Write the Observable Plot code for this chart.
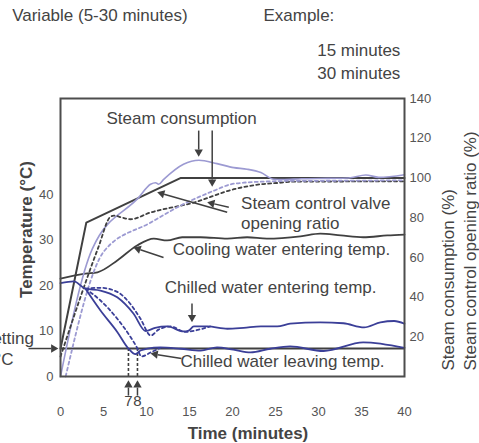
<!DOCTYPE html>
<html><head><meta charset="utf-8">
<script src="https://cdn.jsdelivr.net/npm/d3@7"></script>
<script src="https://cdn.jsdelivr.net/npm/@observablehq/plot@0.6"></script>
<style>
html,body{margin:0;padding:0;background:#fff;overflow:hidden;}
svg{display:block;}
</style></head><body><div id="chart"></div>
<script>
// ---------- data ----------
const timeTicks = [0, 5, 10, 15, 20, 25, 30, 35, 40];
const tempTicks = [0, 10, 20, 30, 40];
const pctTicks = [20, 40, 60, 80, 100, 120, 140];

// Steam consumption (%)
const steam15Time = [0, 3, 14, 40];
const steam15Pct  = [14, 77.5, 100, 100];
const steam30Time = [0, 3.7, 9.1, 10.47, 11.05, 11.4, 12, 14.3, 16.1, 18.2, 20.15, 21.7, 23.3, 24.8, 25.8, 28, 31, 33.5, 35.5, 37, 40];
const steam30Pct  = [0, 64.3, 90.2, 96.8, 97.6, 96.8, 99.3, 106.9, 108.9, 107.2, 105.2, 104.4, 102.7, 99.3, 99.2, 99.6, 99.8, 100, 101.5, 100.3, 101.6];

// Steam control valve opening ratio (%)
const valve15Time = [0, 4.4, 5.8, 6.2, 7.2, 8.1, 10.47, 15.5, 20.15, 23.26, 25.6, 26.7, 32, 40];
const valve15Pct  = [10, 65, 80.4, 81, 80, 79.2, 82.6, 87.6, 94.3, 96.8, 97.6, 98.1, 98.2, 98.3];
const valve30Time = [0.6, 5.1, 10.47, 14.3, 17.8, 19.8, 21.3, 24, 26.7, 33, 40];
const valve30Pct  = [0, 63.3, 77.5, 86.8, 93.5, 96.8, 97.6, 98.2, 98.5, 98.6, 98.8];

// Cooling water entering temp (°C)
const coolTime = [0, 2.9, 4.3, 6.6, 8.9, 10.85, 12.4, 14.15, 16.3, 19.4, 21.7, 24, 27.9, 30.2, 32.6, 35.2, 38, 40];
const coolTemp = [21.5, 22.6, 22.9, 25.5, 28.8, 30.3, 29.9, 30.6, 30.6, 30.3, 30.6, 30.3, 30.8, 31.4, 31, 30.6, 31, 31.2];

// Chilled water entering temp (°C)
const chEnt15Time = [0, 1.55, 2.9, 4.65, 6.6, 8.5, 9.9, 11, 12.4, 14.3, 14.9, 15.5, 17.1, 19.4, 21.3, 23.3, 25.2, 26.7, 30.2, 32.9, 35.3, 37.2, 38.8, 40];
const chEnt15Temp = [20.5, 20.9, 19.3, 18.9, 17.4, 13.8, 10.0, 10.7, 11, 9.9, 10.1, 11, 11, 10.5, 10.7, 11, 11, 11.6, 11.9, 11.7, 10.8, 11.9, 12.2, 11.6];
const chEnt30Time = [2.9, 4.65, 6.6, 8.1, 9.3, 10.5, 11.4, 12.8, 14.5, 16.3, 17.4];
const chEnt30Temp = [19.3, 19.5, 18.6, 16, 12.7, 9.0, 10.3, 11, 9.8, 10.4, 11];

// Chilled water leaving temp (°C)
const chLv15Time = [2.9, 4.65, 6.6, 7.9, 8.7, 9.3, 10.1, 11.6, 14, 16.3, 18.2, 20.1, 22.1, 24.4, 26.7, 30.6, 35.2, 40];
const chLv15Temp = [19.3, 14.5, 9.8, 6.15, 4.9, 5.7, 6.15, 6.4, 6.1, 5.7, 6.4, 5.9, 5.3, 6.1, 6.6, 5.6, 7.5, 6.3];
const chLv30Time = [2.9, 4.65, 6.6, 8.1, 8.95, 9.4, 10.5, 11.6];
const chLv30Temp = [19.3, 16.7, 12.7, 8.8, 6.15, 4.4, 5.3, 6.3];

const settingTemp = 6.15;
const reachTimes = [7.9, 8.95];
const reachLabels = ["7", "8"];

const titleText = "Variable (5-30 minutes)";
const exampleText = "Example:";
const legendLabels = ["15 minutes", "30 minutes"];

// ---------- helpers ----------
const TEMP_MAX = 61.1, PCT_MAX = 140;
const K = TEMP_MAX / PCT_MAX;           // °C per % on the shared vertical scale
const rows = (ts, vs, f = 1) => ts.map((t, i) => ({t, v: vs[i] * f}));

const DARK = "#404040", LILAC = "#9c9ad2", BLUE = "#3b3f98", TXT = "#444";
const FONT = "'Liberation Sans', Arial, Helvetica, sans-serif";
const W = 479, H = 443, ML = 60, MR = 75, MT = 98, MB = 67;

// annotation layout (time, °C)
const notes = [
  {t: 5.35, v: 56.7, text: "Steam consumption"},
  {t: 21.0, v: 38.1, text: "Steam control valve"},
  {t: 21.0, v: 33.55, text: "opening ratio"},
  {t: 13.06, v: 27.84, text: "Cooling water entering temp."},
  {t: 12.13, v: 19.62, text: "Chilled water entering temp."},
  {t: 13.95, v: 3.36, text: "Chilled water leaving temp."}
];
const pointers = [
  {x1: 16.07, y1: 54.05, x2: 16.07, y2: 48.3},
  {x1: 17.64, y1: 54.05, x2: 17.64, y2: 41.7},
  {x1: 19.38, y1: 36.1, x2: 11.24, y2: 40.5},
  {x1: 19.57, y1: 37.2, x2: 17.06, y2: 38.3},
  {x1: 11.98, y1: 26.15, x2: 8.49, y2: 28.35},
  {x1: 15.29, y1: 16.04, x2: 15.29, y2: 11.95},
  {x1: 14.07, y1: 3.96, x2: 10.47, y2: 5.05},
  {x1: -3.72, y1: settingTemp, x2: -0.25, y2: settingTemp},
  ...reachTimes.map(t => ({x1: t, y1: -4.2, x2: t, y2: -0.85}))
];

// filled arrowheads: triangle symbols placed at each pointer tip
const xs = Plot.scale({x: {domain: [0, 40], range: [ML, W - MR]}});
const ys = Plot.scale({y: {domain: [0, TEMP_MAX], range: [H - MB, MT]}});
const HEAD_R = 3.1;
const triHalf = Math.sqrt(Math.PI * HEAD_R * HEAD_R / (3 * Math.sqrt(3))); // d3 symbolTriangle centroid->base
const heads = pointers.map(p => {
  const ax = xs.apply(p.x1), ay = ys.apply(p.y1), bx = xs.apply(p.x2), by = ys.apply(p.y2);
  const dx = bx - ax, dy = by - ay, len = Math.hypot(dx, dy);
  const ux = dx / len, uy = dy / len;
  const cx = bx - ux * 2 * triHalf, cy = by - uy * 2 * triHalf;
  return {x: xs.invert(cx), y: ys.invert(cy), rot: Math.atan2(dx, -dy) * 180 / Math.PI,
          lx: xs.invert(bx - ux * 3 * triHalf), ly: ys.invert(by - uy * 3 * triHalf), ...p};
});

const lineStyle = (stroke, w, dash) => ({x: "t", y: "v", stroke, strokeWidth: w, strokeDasharray: dash, curve: "monotone-x"});

const chart = Plot.plot({
  width: W, height: H,
  marginLeft: ML, marginRight: MR, marginTop: MT, marginBottom: MB,
  style: {fontFamily: FONT, fontSize: "13px", color: "#555", background: "#fff", overflow: "visible"},
  x: {domain: [0, 40]},
  y: {domain: [0, TEMP_MAX]},
  marks: [
    Plot.ruleY([settingTemp], {stroke: DARK, strokeWidth: 2}),
    Plot.ruleX(reachTimes, {y1: 0, y2: settingTemp, stroke: DARK, strokeWidth: 1.6, strokeDasharray: "3,2"}),
    Plot.line(rows(coolTime, coolTemp), lineStyle(DARK, 1.8)),
    Plot.line(rows(steam15Time, steam15Pct, K), {...lineStyle(DARK, 2), curve: "linear"}),
    Plot.line(rows(steam30Time, steam30Pct, K), lineStyle(LILAC, 1.6)),
    Plot.line(rows(valve15Time, valve15Pct, K), lineStyle(DARK, 1.8, "3,3")),
    Plot.line(rows(valve30Time, valve30Pct, K), lineStyle(LILAC, 1.8, "3,3")),
    Plot.line(rows(chEnt15Time, chEnt15Temp), lineStyle(BLUE, 1.8)),
    Plot.line(rows(chEnt30Time, chEnt30Temp), lineStyle(BLUE, 1.8, "3,3")),
    Plot.line(rows(chLv15Time, chLv15Temp), lineStyle(BLUE, 1.8)),
    Plot.line(rows(chLv30Time, chLv30Temp), lineStyle(BLUE, 1.8, "3,3")),
    Plot.frame({stroke: "#4d4d4d", strokeWidth: 2}),
    Plot.link(heads, {x1: "x1", y1: "y1", x2: "lx", y2: "ly", stroke: DARK, strokeWidth: 1.5}),
    Plot.dot(heads, {x: "x", y: "y", symbol: "triangle", r: HEAD_R, rotate: "rot", fill: DARK, stroke: "none"}),
    Plot.text(reachTimes, {x: d => d, y: -5.5, text: (d, i) => reachLabels[i], fontSize: 15, fill: TXT}),
    Plot.text(notes, {x: "t", y: "v", text: "text", textAnchor: "start", fontSize: 17, fill: TXT}),
    // axes
    Plot.axisX(timeTicks, {tickSize: 0, tickPadding: 30, label: null, fontSize: 13, fill: "#555"}),
    Plot.axisY(tempTicks, {anchor: "left", tickSize: 0, tickPadding: 7, label: null, fontSize: 13, fill: "#555"}),
    Plot.axisY(pctTicks.map(p => p * K), {anchor: "right", tickSize: 0, tickPadding: 5, label: null, fontSize: 13, fill: "#555", tickFormat: d => String(Math.round(d / K))}),
    // axis titles
    Plot.text(["Time (minutes)"], {x: 21.8, y: -12.46, fontSize: 17, fontWeight: "bold", fill: TXT}),
    Plot.text(["Temperature (°C)"], {x: -3.95, y: 32.3, rotate: -90, fontSize: 17, fontWeight: "bold", fill: TXT}),
    Plot.text(["Steam consumption (%)"], {x: 45.1, y: 1.32, rotate: -90, textAnchor: "start", fontSize: 17, fill: TXT}),
    Plot.text(["Steam control opening ratio (%)"], {x: 47.67, y: 1.32, rotate: -90, textAnchor: "start", fontSize: 17, fill: TXT}),
    // setting label (partly outside the left edge, as in the reference)
    Plot.text(["Setting"], {x: -3.08, y: 8.35, textAnchor: "end", fontSize: 17, fill: TXT}),
    Plot.text(["7°C"], {x: -5.45, y: 3.67, textAnchor: "end", fontSize: 17, fill: TXT}),
    // header and legend text
    Plot.text([titleText], {x: -5.62, y: 79.3, textAnchor: "start", fontSize: 17, fill: TXT}),
    Plot.text([exampleText], {x: 23.6, y: 79.3, textAnchor: "start", fontSize: 17, fill: TXT}),
    Plot.text(legendLabels, {x: 29.85, y: (d, i) => [71.6, 66.5][i], textAnchor: "start", fontSize: 17, fill: TXT})
  ]
});
document.getElementById("chart").append(chart);
</script></body></html>
